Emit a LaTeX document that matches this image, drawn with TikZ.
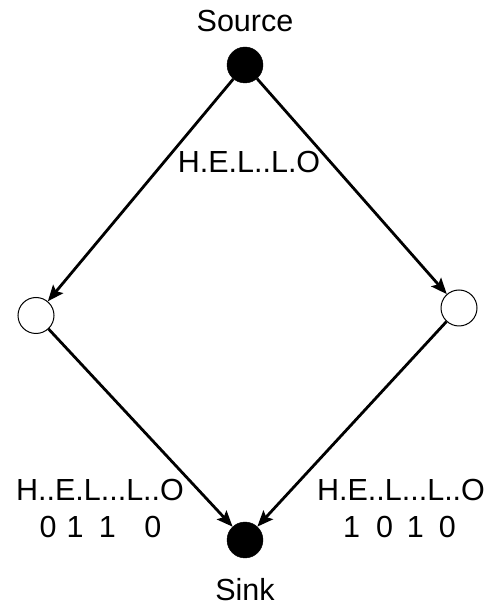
\documentclass[tikz,border=0pt]{standalone}
\usepackage{fontspec}
\setmainfont{Liberation Sans}
\usetikzlibrary{arrows.meta}
\begin{document}
\begin{tikzpicture}[x=1pt,y=1pt,
 dot/.style={circle,draw=black,fill=black,minimum size=36pt,inner sep=0pt},
 hole/.style={circle,draw=black,line width=1pt,fill=white,minimum size=36pt,inner sep=0pt},
 lbl/.style={font=\fontsize{30.5}{35}\selectfont,inner sep=0pt,anchor=base},
 arr/.style={line width=2.8pt,-{Stealth[length=16pt,width=13pt,inset=3pt]}}]
\useasboundingbox (0,0) rectangle (489,605);
\node[dot] (src) at (245,540) {};
\node[hole] (l) at (36,289.5) {};
\node[hole] (r) at (459,297) {};
\node[dot] (snk) at (245,65) {};
\draw[arr] (src) -- (l);
\draw[arr] (src) -- (r);
\draw[arr] (l) -- (snk);
\draw[arr] (r) -- (snk);
\node[lbl] (tsrc) at (245,573) {Source};
\node[lbl] (ttop) at (249,432) {H.E.L..L.O};
\node[lbl] (tleft) at (100,104) {H..E.L...L..O};
\node[lbl] (bleft) at (100.5,67) {0\hspace{10pt}1\hspace{15.2pt}1\hspace{28.6pt}0};
\node[lbl] (tright) at (401,104) {H.E..L...L..O};
\node[lbl] (bright) at (399.5,67) {1\hspace{16pt}0\hspace{14pt}1\hspace{15pt}0};
\node[lbl] (tsnk) at (245,5) {Sink};
\end{tikzpicture}
\end{document}
